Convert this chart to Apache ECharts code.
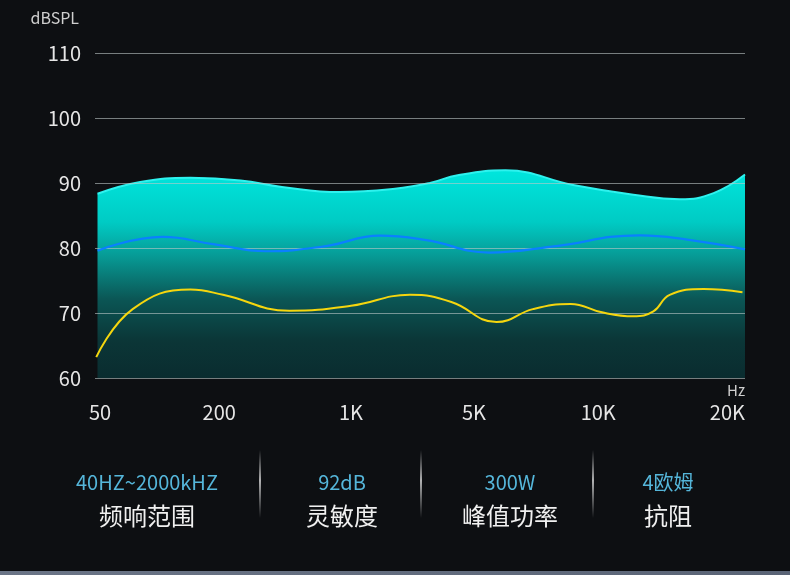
<!DOCTYPE html>
<html><head><meta charset="utf-8">
<script src="https://cdn.jsdelivr.net/npm/echarts@6/dist/echarts.min.js"></script>
<style>html,body{margin:0;padding:0;background:#0d0f12;}#c{width:790px;height:575px;}</style>
</head><body><div id="c"></div>
<script>
// Tick labels (x positions in label-index units)
const xTickPos = [0, 0.95, 2, 2.98, 3.97, 5];
const xTickLabels = ['50', '200', '1K', '5K', '10K', '20K'];
// Area (max SPL) curve: positions (label-index units) and values (dB SPL)
const areaX = [-0.02, 0.32, 0.72, 1.12, 1.45, 1.91, 2.35, 2.63, 2.85, 3.23, 3.77, 4.25, 4.62, 4.89, 5.14];
const areaY = [88.35, 90.15, 90.8, 90.4, 89.4, 88.6, 89.1, 90.0, 91.2, 91.95, 89.7, 88.2, 87.5, 88.45, 91.3];
// Blue curve
const blueX = [-0.02, 0.5, 0.9, 1.32, 1.8, 2.23, 2.6, 3.1, 3.6, 4.3, 4.68, 5.14];
const blueY = [79.6, 81.7, 80.6, 79.5, 80.3, 81.9, 81.2, 79.3, 80.2, 81.95, 81.3, 79.8];
// Yellow curve
const yellowX = [-0.03, 0.26, 0.72, 0.98, 1.51, 2.0, 2.47, 2.8, 3.16, 3.45, 3.75, 4.0, 4.25, 4.41, 4.54, 4.81, 5.12];
const yellowY = [63.2, 70.6, 73.6, 72.8, 70.35, 71.1, 72.8, 71.7, 68.6, 70.6, 71.4, 70.1, 69.5, 70.25, 72.8, 73.7, 73.2];
// Spec block texts
const specValues = ['40HZ~2000kHZ', '92dB', '300W', '4欧姆'];
const specNames = ['频响范围', '灵敏度', '峰值功率', '抗阻'];

const FONT = "'Noto Sans CJK SC', 'Noto Sans', sans-serif";
const pairs = (xs, ys) => xs.map((x, i) => [x, ys[i]]);

const chart = echarts.init(document.getElementById('c'));

const specX = [147, 342, 510, 668];
const sepX = [260, 421, 593];
const g2 = [];
specValues.forEach((t, i) => {
  g2.push({type: 'text', x: specX[i], y: 482, style: {text: t, fill: '#55b6da', font: '20px ' + FONT, align: 'center', verticalAlign: 'middle'}});
  g2.push({type: 'text', x: specX[i], y: 516, style: {text: specNames[i], fill: '#f0f0f0', font: '24px ' + FONT, align: 'center', verticalAlign: 'middle'}});
});
sepX.forEach(x => {
  g2.push({type: 'rect', shape: {x: x - 0.75, y: 450, width: 1.5, height: 68},
    style: {fill: new echarts.graphic.LinearGradient(0, 0, 0, 1, [
      {offset: 0, color: 'rgba(255,255,255,0)'},
      {offset: 0.45, color: 'rgba(255,255,255,0.9)'},
      {offset: 1, color: 'rgba(255,255,255,0)'}])}});
});
g2.push({type: 'rect', shape: {x: 0, y: 571, width: 790, height: 4},
  style: {fill: new echarts.graphic.LinearGradient(0, 0, 1, 0, [
    {offset: 0, color: '#6b7587'}, {offset: 1, color: '#5a6476'}])}});
g2.push({type: 'text', x: 745, y: 390, style: {text: 'Hz', fill: '#cfcfcf', font: '15px ' + FONT, align: 'right', verticalAlign: 'middle'}});
g2.push({type: 'text', x: 79, y: 18, style: {text: 'dBSPL', fill: '#cfcfcf', font: '16px ' + FONT, align: 'right', verticalAlign: 'middle'}});

chart.setOption({
  backgroundColor: '#0d0f12',
  animation: false,
  textStyle: {fontFamily: FONT},
  grid: {left: 95, right: 45, top: 53, bottom: 197},
  xAxis: {
    type: 'value', min: -0.04, max: 5.14, z: 3,
    axisLine: {show: false}, axisTick: {show: false}, splitLine: {show: false},
    axisLabel: {
      customValues: xTickPos, color: '#e6e6e6', fontSize: 20, margin: 24, fontFamily: FONT,
      formatter: v => { const i = xTickPos.findIndex(p => Math.abs(p - v) < 1e-6); return i >= 0 ? xTickLabels[i] : ''; }
    }
  },
  yAxis: {
    type: 'value', min: 60, max: 110, interval: 10, z: 3,
    axisLine: {show: false}, axisTick: {show: false},
    axisLabel: {color: '#e6e6e6', fontSize: 20, margin: 14, fontFamily: FONT},
    splitLine: {lineStyle: {color: 'rgba(190,200,200,0.6)', width: 1}}
  },
  series: [
    {
      type: 'line', data: pairs(areaX, areaY), smooth: 0.45, symbol: 'none', z: 1,
      lineStyle: {color: '#2ef2ee', width: 2},
      areaStyle: {origin: 'start', opacity: 1, color: new echarts.graphic.LinearGradient(0, 0, 0, 1, [
        {offset: 0, color: '#00e6dd'},
        {offset: 0.25, color: '#00cbc4'},
        {offset: 0.42, color: '#079893'},
        {offset: 0.62, color: '#0b5655'},
        {offset: 0.82, color: '#0b3637'},
        {offset: 1, color: '#0a2c2f'}])}
    },
    {type: 'line', data: pairs(blueX, blueY), smooth: 0.45, symbol: 'none', z: 4, lineStyle: {color: '#0a80ff', width: 2.2}},
    {type: 'line', data: pairs(yellowX, yellowY), smooth: 0.45, symbol: 'none', z: 4, lineStyle: {color: '#f5d60e', width: 2}}
  ],
  graphic: g2
});
</script></body></html>
